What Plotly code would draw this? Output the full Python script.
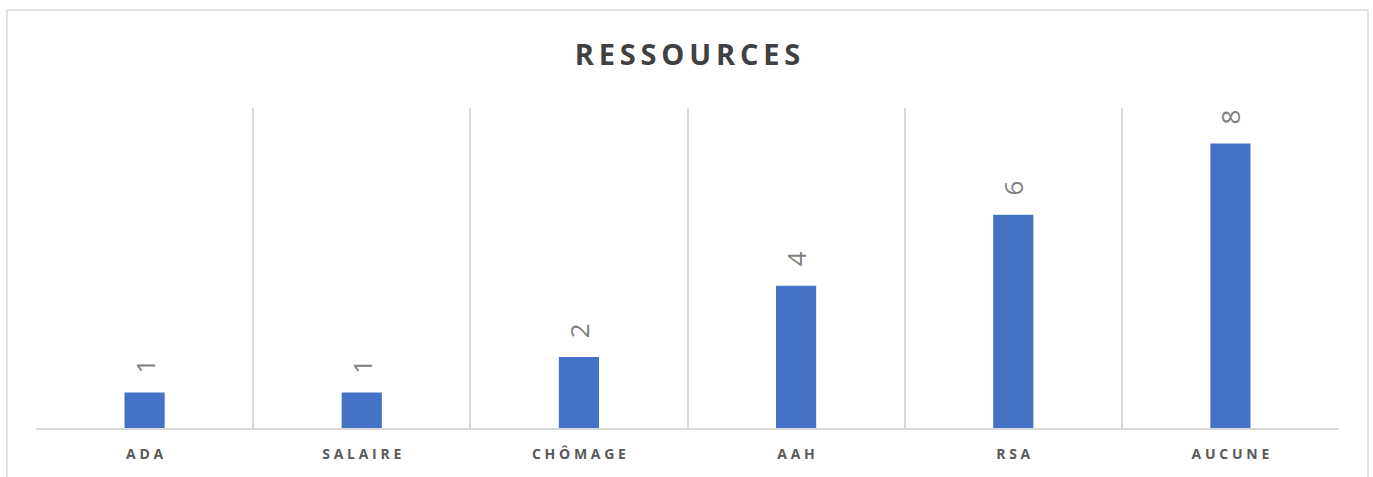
import plotly.graph_objects as go

categories = ["ADA", "SALAIRE", "CHÔMAGE", "AAH", "RSA", "AUCUNE"]
values = [1, 1, 2, 4, 6, 8]
title_text = "RESSOURCES"

def spaced(s, sep):
    return sep.join(list(s))

fig = go.Figure(go.Bar(
    x=categories,
    y=values,
    width=0.185,
    marker=dict(color="#4472C4", line=dict(width=0)),
    hoverinfo="x+y",
))

for c, v in zip(categories, values):
    fig.add_annotation(x=c, y=v, text=str(v), showarrow=False, textangle=-90,
                       xanchor="center", yanchor="bottom", yshift=17,
                       font=dict(family="Open Sans", size=26, color="#7f7f7f"))

fig.update_layout(
    width=1373, height=477,
    margin=dict(l=36, r=34, t=108, b=49),
    paper_bgcolor="white", plot_bgcolor="white",
    showlegend=False,
    title=dict(text="<b>" + spaced(title_text, "\u2009") + "</b>", x=0.5, xref="paper", xanchor="center",
               y=1 - 54.5 / 477, yref="container", yanchor="middle",
               font=dict(family="Open Sans", size=29, color="#404040")),
    xaxis=dict(
        tickmode="array", tickvals=categories,
        ticktext=["<b>" + spaced(c, "\u2009\u200a") + "</b>" for c in categories],
        tickson="boundaries", showgrid=True, gridcolor="#d9d9d9", gridwidth=1.5,
        showline=True, linecolor="#d9d9d9", linewidth=1.5,
        ticks="", ticklabelstandoff=12,
        tickfont=dict(family="Open Sans", size=14, color="#595959"),
    ),
    yaxis=dict(range=[0, 9], showgrid=False, showticklabels=False, zeroline=False, showline=False),
    shapes=[dict(type="rect", xref="paper", yref="paper", x0=-0.0223, x1=1.0223, y0=-0.3, y1=1.306,
                 line=dict(color="#d9d9d9", width=1.5), fillcolor="rgba(0,0,0,0)", layer="below")],
)

fig.write_html("out.html")
